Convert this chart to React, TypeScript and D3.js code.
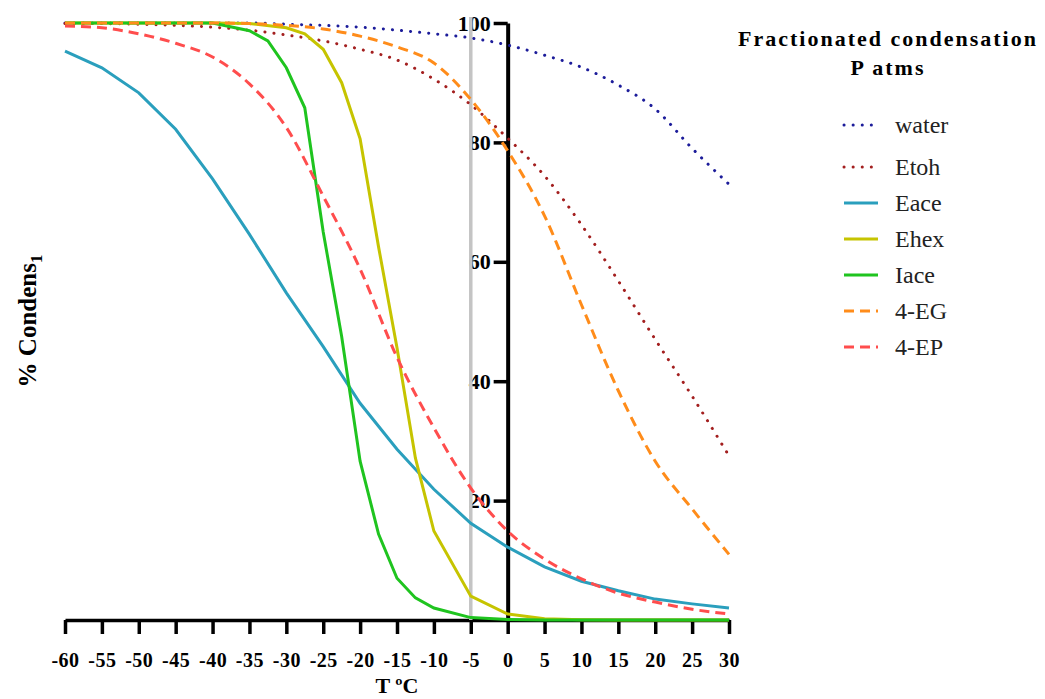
import { useRef, useEffect } from "react";
import * as d3 from "d3";

// temperatures (°C) at 5 degree steps
const temps = [-60, -55, -50, -45, -40, -35, -30, -25, -20, -15, -10, -5, 0, 5, 10, 15, 20, 25, 30];

const water = [100, 100, 100, 100, 100, 100, 99.8, 99.6, 99.3, 98.8, 98.2, 97.5, 96.3, 94.6, 92.6, 89.6, 85.6, 79, 73];
const etoh = [99.9, 99.9, 99.8, 99.6, 99.3, 98.8, 98.0, 97.0, 95.6, 93.8, 90.6, 86.3, 80.7, 74.4, 66.2, 56.8, 47, 37.5, 27.5];
const eace = [95.3, 92.5, 88.3, 82.2, 73.9, 64.6, 54.8, 45.8, 36.3, 28.6, 21.9, 16.2, 12.2, 8.9, 6.5, 4.9, 3.5, 2.7, 2.0];
const eg4 = [100, 100, 100, 100, 100, 99.9, 99.6, 99.0, 97.8, 96.0, 93.3, 87.2, 78.6, 67.7, 52.8, 38.4, 26.6, 18.6, 11];
const ep4 = [99.5, 99.2, 98.2, 96.6, 94.3, 89.8, 82.5, 71, 58.8, 44, 32.2, 22.1, 14.9, 10.2, 6.9, 4.5, 3.0, 1.8, 1.0];

// Ehex and Iace have extra points through the transition
const ehexT = [-60, -55, -50, -45, -40, -35, -30, -27.5, -25, -22.5, -20, -17.5, -15, -12.5, -10, -5, 0, 5, 10, 15, 20, 25, 30];
const ehex = [100, 100, 100, 100, 100, 99.9, 99.2, 98.2, 95.6, 90, 80.6, 62.5, 45.6, 27.1, 14.9, 4.0, 1.0, 0.2, 0.05, 0, 0, 0, 0];
const iaceT = [-60, -55, -50, -45, -40, -35, -32.5, -30, -27.5, -25, -22.5, -20, -17.5, -15, -12.5, -10, -5, 0, 5, 10, 15, 20, 25, 30];
const iace = [100, 100, 100, 100, 100, 98.7, 97, 92.5, 85.8, 65, 47.5, 26.6, 14.4, 7, 3.7, 2, 0.4, 0.1, 0, 0, 0, 0, 0, 0];

const xTicks = d3.range(-60, 31, 5);
const yTicks = [20, 40, 60, 80, 100];

interface Series {
  label: string;
  t: number[];
  v: number[];
  color: string;
  style: "dot" | "dash" | "solid";
  smooth: boolean;
}

const series: Series[] = [
  { label: "water", t: temps, v: water, color: "#1c1c9a", style: "dot", smooth: true },
  { label: "Etoh", t: temps, v: etoh, color: "#a31f1f", style: "dot", smooth: true },
  { label: "Eace", t: temps, v: eace, color: "#2a9fbd", style: "solid", smooth: false },
  { label: "Ehex", t: ehexT, v: ehex, color: "#c6c400", style: "solid", smooth: false },
  { label: "Iace", t: iaceT, v: iace, color: "#1fc41f", style: "solid", smooth: false },
  { label: "4-EG", t: temps, v: eg4, color: "#ff8c1a", style: "dash", smooth: true },
  { label: "4-EP", t: temps, v: ep4, color: "#ff4d4d", style: "dash", smooth: true },
];

const FONT = "'Liberation Serif', 'Times New Roman', serif";

function applyStyle(sel: any, s: Series) {
  sel.attr("stroke", s.color).attr("fill", "none");
  if (s.style === "dot") {
    sel.attr("stroke-width", 3).attr("stroke-dasharray", "0.1 9").attr("stroke-linecap", "round");
  } else if (s.style === "dash") {
    sel.attr("stroke-width", 3).attr("stroke-dasharray", "10 6");
  } else {
    sel.attr("stroke-width", 3);
  }
}

export default function App() {
  const ref = useRef<SVGSVGElement>(null);
  const width = 1045;
  const height = 699;

  useEffect(() => {
    if (!ref.current) return;
    const svg = d3.select(ref.current);
    svg.selectAll("*").remove();

    const x = d3.scaleLinear().domain([-60, 30]).range([65, 729]);
    const y = d3.scaleLinear().domain([0, 100]).range([620, 23]);

    // x axis
    const gx = svg.append("g").attr("transform", `translate(0,${y(0)})`)
      .call(d3.axisBottom(x).tickValues(xTicks).tickSize(14).tickSizeOuter(0).tickFormat((d) => String(d)));
    gx.select(".domain").attr("stroke", "#000").attr("stroke-width", 3.5);
    gx.selectAll(".tick line").attr("stroke", "#000").attr("stroke-width", 3.5);
    gx.selectAll("text").attr("y", 33).attr("fill", "#000").attr("font-size", "20px")
      .attr("font-weight", "bold").attr("font-family", FONT).attr("letter-spacing", "0.5px");

    // y axis at T = 0
    const gy = svg.append("g").attr("transform", `translate(${x(0)},0)`)
      .call(d3.axisLeft(y).tickValues(yTicks).tickSize(14).tickSizeOuter(0).tickFormat((d) => String(d)));
    gy.select(".domain").attr("stroke", "#000").attr("stroke-width", 4);
    gy.selectAll(".tick line").attr("stroke", "#000").attr("stroke-width", 3.5);
    gy.selectAll("text").attr("fill", "#000").attr("font-size", "22px")
      .attr("font-weight", "bold").attr("font-family", FONT);

    // gray marker at -5
    svg.append("line").attr("x1", x(-5)).attr("x2", x(-5)).attr("y1", 17).attr("y2", y(0))
      .attr("stroke", "#c4c4c4").attr("stroke-width", 3.5);

    // series
    series.forEach((s) => {
      const pts = s.t.map((t, i) => [t, s.v[i]] as [number, number]);
      const line = d3.line<[number, number]>()
        .x((d) => x(d[0]))
        .y((d) => y(d[1]))
        .curve(s.smooth ? d3.curveMonotoneX : d3.curveLinear);
      const p = svg.append("path").datum(pts).attr("d", line);
      applyStyle(p, s);
    });

    // axis titles
    svg.append("text").attr("x", (x(-60) + x(30)) / 2).attr("y", 693).attr("text-anchor", "middle")
      .attr("font-family", FONT).attr("font-weight", "bold").attr("font-size", "22px").text("T ºC");

    const yt = svg.append("text").attr("transform", "translate(36,321) rotate(-90)").attr("text-anchor", "middle")
      .attr("font-family", FONT).attr("font-weight", "bold").attr("font-size", "25px");
    yt.append("tspan").text("% Condens");
    yt.append("tspan").attr("font-size", "17px").attr("dy", 6).text("1");

    // legend
    const lg = svg.append("g");
    lg.append("text").attr("x", 888).attr("y", 46).attr("text-anchor", "middle")
      .attr("font-family", FONT).attr("font-weight", "bold").attr("font-size", "22px")
      .attr("letter-spacing", "2px").text("Fractionated condensation");
    lg.append("text").attr("x", 888).attr("y", 75).attr("text-anchor", "middle")
      .attr("font-family", FONT).attr("font-weight", "bold").attr("font-size", "22px")
      .attr("letter-spacing", "2px").text("P atms");

    series.forEach((s, i) => {
      const cy = i === 0 ? 125 : 167 + (i - 1) * 36;
      const l = lg.append("line").attr("x1", 844).attr("x2", 878).attr("y1", cy).attr("y2", cy);
      applyStyle(l, s);
      lg.append("text").attr("x", 895).attr("y", cy + 8).attr("font-family", FONT)
        .attr("font-size", "24px").attr("fill", "#222").text(s.label);
    });
  }, []);

  return (
    <div style={{ position: "absolute", left: 0, top: 0 }}>
      <svg ref={ref} width={width} height={height} style={{ display: "block", background: "#fff" }} />
    </div>
  );
}
